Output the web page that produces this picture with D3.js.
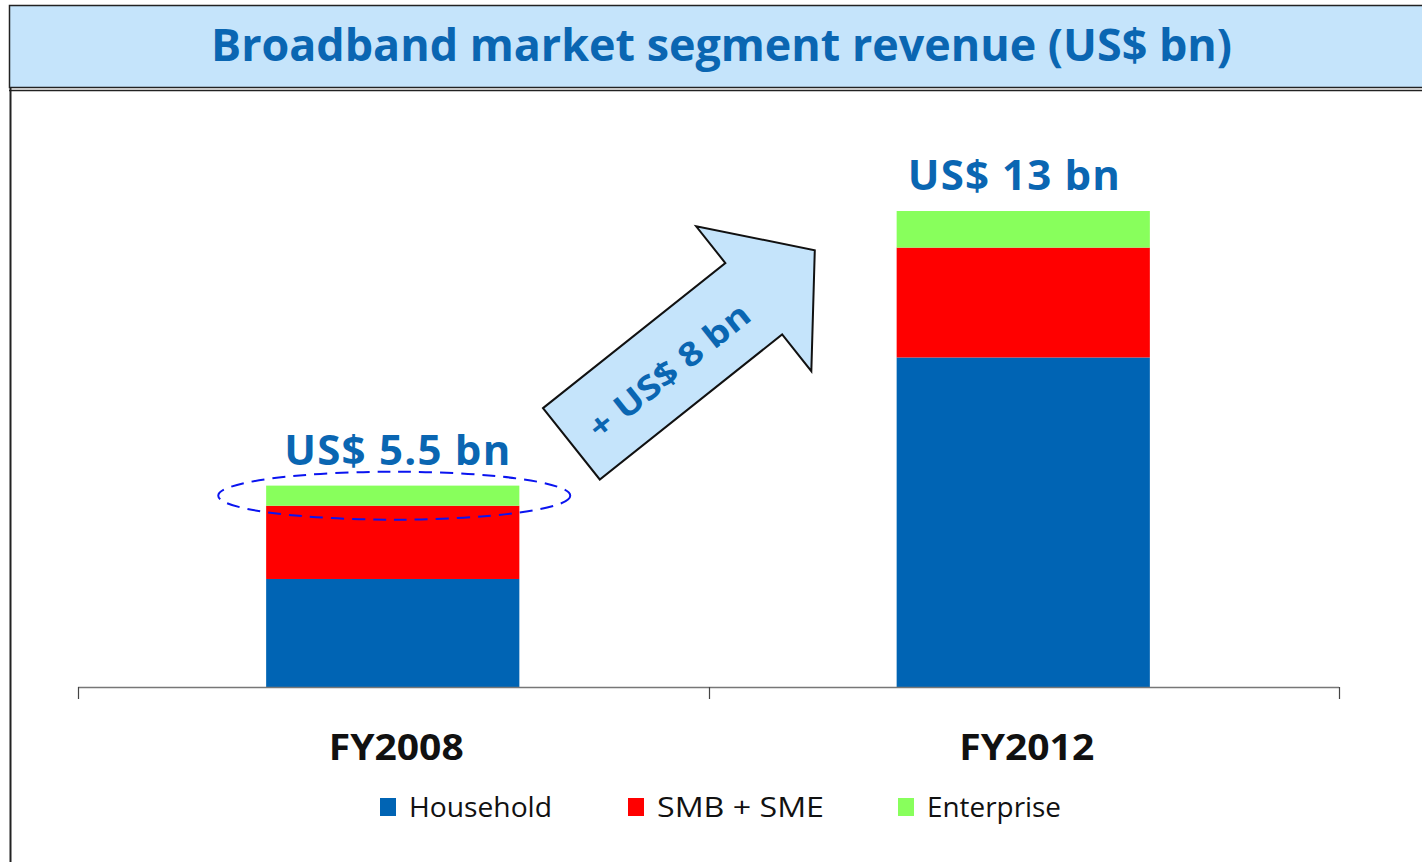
<!doctype html>
<html>
<head>
<meta charset="utf-8">
<title>Broadband market segment revenue</title>
<script src="https://cdn.jsdelivr.net/npm/d3@7"></script>
<style>
*{margin:0;padding:0;}
body{background:white;}
svg{display:block;}
</style>
</head>
<body>
<script>
// data
var years = ["FY2008", "FY2012"];
var segments = ["Household", "SMB + SME", "Enterprise"];
var household = [2.95, 9.0];
var smbSme = [2.0, 3.0];
var enterprise = [0.55, 1.0];
var totalLabels = ["US$ 5.5 bn", "US$ 13 bn"];
var growthLabel = "+ US$ 8 bn";
var segColors = ["#0064b4", "#ff0000", "#88ff5c"];

var W = 1422, H = 862;
var svg = d3.select("body").append("svg").attr("width", W).attr("height", H);

// title bar
svg.append("rect").attr("x", 9.5).attr("y", 5.5).attr("width", 1430).attr("height", 82)
  .attr("fill", "#c5e4fb").attr("stroke", "#222").attr("stroke-width", 1.5);
svg.append("line").attr("x1", 9).attr("x2", W).attr("y1", 90.5).attr("y2", 90.5)
  .attr("stroke", "#222").attr("stroke-width", 1.5);
svg.append("line").attr("x1", 10.5).attr("x2", 10.5).attr("y1", 88).attr("y2", H)
  .attr("stroke", "#222").attr("stroke-width", 2);
svg.append("text").attr("x", 211).attr("y", 61)
  .attr("font-family", "Open Sans").attr("font-weight", 700).attr("font-size", 45)
  .attr("fill", "#0a66b2").attr("textLength", 1021).attr("lengthAdjust", "spacingAndGlyphs")
  .text("Broadband market segment revenue (US$ bn)");

// scales
var x = d3.scaleBand().domain(years).range([78, 1339]).paddingInner(0.6).paddingOuter(0.3);
var y = d3.scaleLinear().domain([0, 13]).range([687, 211]);

// stack
var rows = years.map(function(yr, i){
  return {year: yr, "Household": household[i], "SMB + SME": smbSme[i], "Enterprise": enterprise[i]};
});
var stacked = d3.stack().keys(segments)(rows);

svg.append("g").selectAll("g").data(stacked).enter().append("g")
  .attr("fill", function(d, i){ return segColors[i]; })
  .selectAll("rect").data(function(d){ return d; }).enter().append("rect")
  .attr("x", function(d){ return x(d.data.year) - 1; })
  .attr("width", x.bandwidth() + 1)
  .attr("y", function(d){ return y(d[1]); })
  .attr("height", function(d){ return y(d[0]) - y(d[1]); });

// category axis (ticks between categories)
var ax = svg.append("g");
ax.append("line").attr("x1", x.range()[0]).attr("x2", x.range()[1])
  .attr("y1", y(0) + 0.5).attr("y2", y(0) + 0.5).attr("stroke", "#777").attr("stroke-width", 1.5);
d3.range(years.length + 1).forEach(function(i){
  var tx = Math.round(x.range()[0] + i * x.step()) + 0.5;
  ax.append("line").attr("x1", tx).attr("x2", tx).attr("y1", y(0)).attr("y2", y(0) + 12)
    .attr("stroke", "#444").attr("stroke-width", 1.2);
});
ax.selectAll("text.cat").data(years).enter().append("text")
  .attr("x", function(d){ return x(d) + x.bandwidth() / 2 + 3; })
  .attr("y", 760)
  .attr("text-anchor", "middle")
  .attr("font-family", "Open Sans").attr("font-weight", 700).attr("font-size", 35)
  .attr("textLength", 135).attr("lengthAdjust", "spacingAndGlyphs")
  .attr("fill", "#111").text(function(d){ return d; });

// total labels
var totals = years.map(function(yr, i){ return household[i] + smbSme[i] + enterprise[i]; });
var labelShift = [4, -10];
svg.selectAll("text.tot").data(years).enter().append("text")
  .attr("x", function(d, i){ return x(d) + x.bandwidth() / 2 + labelShift[i]; })
  .attr("y", function(d, i){ return y(totals[i]) - 21; })
  .attr("text-anchor", "middle")
  .attr("font-family", "Open Sans").attr("font-weight", 700).attr("font-size", 42)
  .attr("fill", "#0a66b2")
  .attr("textLength", function(d, i){ return i === 0 ? 226 : 212; })
  .attr("lengthAdjust", "spacing")
  .text(function(d, i){ return totalLabels[i]; });

// dashed ellipse around the FY2008 enterprise slice
var ex = x(years[0]) + x.bandwidth() / 2;
svg.append("ellipse").attr("cx", ex + 1).attr("cy", (y(totals[0]) + y(totals[0] - enterprise[0])) / 2)
  .attr("rx", 176).attr("ry", 24)
  .attr("fill", "none").attr("stroke", "#0a14f0").attr("stroke-width", 2)
  .attr("stroke-dasharray", "13,8");

// growth arrow
var ang = -38.5;
var arrow = svg.append("g").attr("transform", "translate(571.4,443.8) rotate(" + ang + ")");
var sh = 45.6, hh = 92.5, shaft = 233, tip = 311;
arrow.append("polygon")
  .attr("points", [[0, -sh], [shaft, -sh], [shaft, -hh], [tip, 0], [shaft, hh], [shaft, sh], [0, sh]].join(" "))
  .attr("fill", "#c5e4fb").attr("stroke", "#111").attr("stroke-width", 2).attr("stroke-linejoin", "miter");
arrow.append("text").attr("x", 122).attr("y", 3)
  .attr("text-anchor", "middle").attr("dominant-baseline", "central")
  .attr("font-family", "Open Sans").attr("font-weight", 700).attr("font-size", 33)
  .attr("textLength", 196).attr("lengthAdjust", "spacingAndGlyphs")
  .attr("fill", "#0a66b2").text(growthLabel);

// legend
var legX = [380, 628, 898];
var legW = [143, 167, 134];
var leg = svg.append("g");
segments.forEach(function(s, i){
  leg.append("rect").attr("x", legX[i]).attr("y", 798).attr("width", 16).attr("height", 18)
    .attr("fill", segColors[i]);
  leg.append("text").attr("x", legX[i] + 29).attr("y", 817)
    .attr("font-family", "Open Sans").attr("font-weight", 400).attr("font-size", 27)
    .attr("textLength", legW[i]).attr("lengthAdjust", "spacingAndGlyphs")
    .attr("fill", "#111").text(s);
});
</script>
</body>
</html>
